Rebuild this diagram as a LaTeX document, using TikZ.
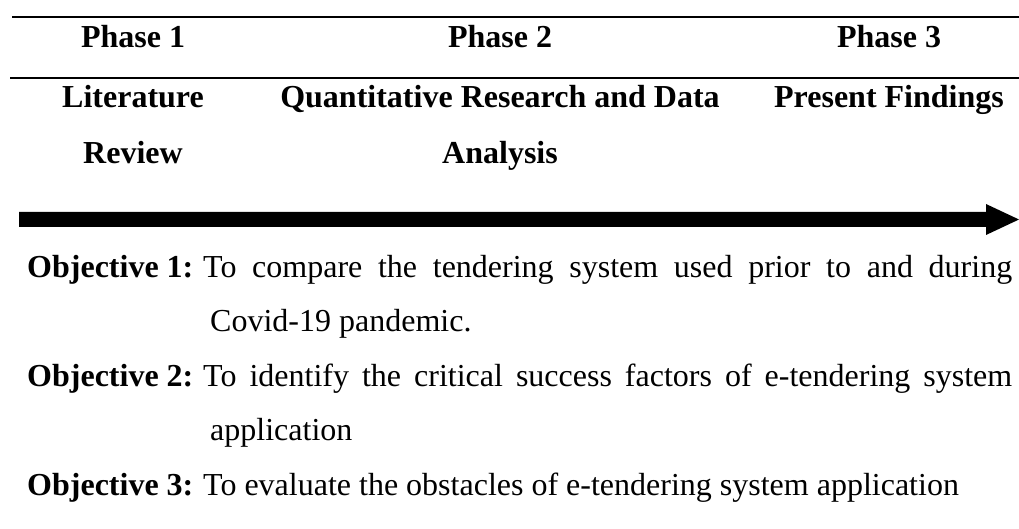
\documentclass[tikz,border=0pt]{standalone}
\usepackage{fontspec}
\setmainfont{Liberation Serif}
\tikzset{
  head/.style={anchor=base, inner sep=0pt, font=\fontsize{32}{38}\selectfont\bfseries},
  rule/.style={line width=1.6pt},
  objtext/.style={anchor=base west, inner sep=0pt}
}
\newcommand{\objpar}[2]{\parbox[t]{985pt}{\fontsize{32}{54.5}\selectfont
  \tolerance=10000 \spaceskip=0.25em plus 0.6em minus 0.05em
  \hangindent=183pt \hangafter=1 \noindent\makebox[176pt][l]{\textbf{#1}}#2}}
\begin{document}
\begin{tikzpicture}[x=1pt,y=-1pt]
\useasboundingbox (0,0) rectangle (1019,529);
% table rules
\coordinate (r1a) at (12,17);
\coordinate (r1b) at (1019,17);
\coordinate (r2a) at (10,78);
\coordinate (r2b) at (1019,78);
\draw[rule] (r1a) -- (r1b);
\draw[rule] (r2a) -- (r2b);
% header row
\node[head] (p1) at (133,48) {Phase 1};
\node[head] (p2) at (500,48) {Phase 2};
\node[head] (p3) at (889,48) {Phase 3};
% second row
\node[head] (l1a) at (133,108) {Literature};
\node[head] (l1b) at (133,164) {Review};
\node[head] (l2a) at (500,108) {Quantitative Research and Data};
\node[head] (l2b) at (500,164) {Analysis};
\node[head] (l3a) at (889,108) {Present Findings};
% arrow
\fill[black] (19,212) -- (986,212) -- (986,204) -- (1019,219.5) -- (986,235) -- (986,227) -- (19,227) -- cycle;
% objectives
\node[objtext] (o1) at (27,277) {\objpar{Objective 1:}{To compare the tendering system used prior to and during\linebreak Covid-19 pandemic.}};
\node[objtext] (o2) at (27,386) {\objpar{Objective 2:}{To identify the critical success factors of e-tendering system\linebreak application}};
\node[objtext] (o3) at (27,495) {\objpar{Objective 3:}{To evaluate the obstacles of e-tendering system application}};
\end{tikzpicture}
\end{document}
